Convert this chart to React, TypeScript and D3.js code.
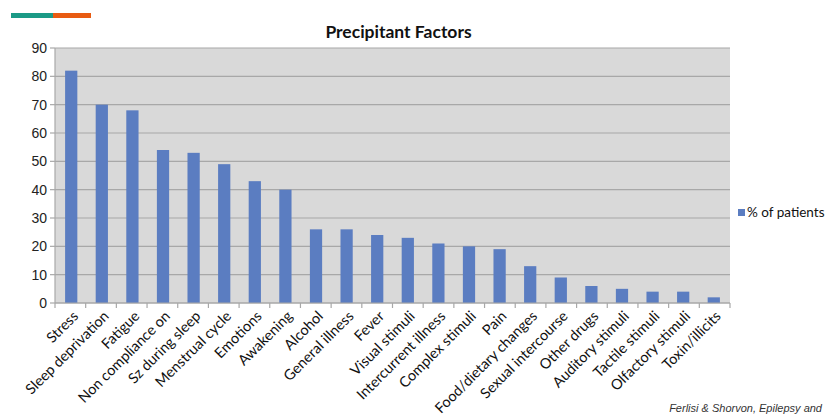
import React from "react";
import * as d3 from "d3";

const categories = [
  "Stress", "Sleep deprivation", "Fatigue", "Non compliance on", "Sz during sleep",
  "Menstrual cycle", "Emotions", "Awakening", "Alcohol", "General illness", "Fever",
  "Visual stimuli", "Intercurrent illness", "Complex stimuli", "Pain",
  "Food/dietary changes", "Sexual intercourse", "Other drugs", "Auditory stimuli",
  "Tactile stimuli", "Olfactory stimuli", "Toxin/illicits",
];
const values = [82, 70, 68, 54, 53, 49, 43, 40, 26, 26, 24, 23, 21, 20, 19, 13, 9, 6, 5, 4, 4, 2];
const yTicks = [0, 10, 20, 30, 40, 50, 60, 70, 80, 90];
const seriesName = "% of patients";
const title = "Precipitant Factors";
const source = "Ferlisi & Shorvon, Epilepsy and";

export default function App() {
  const W = 826, H = 419;
  const left = 55, right = 730, top = 48, bottom = 303;
  const x = d3.scaleBand<string>().domain(categories).range([left, right]).paddingInner(0.6).paddingOuter(0.33);
  const xb = d3.scaleBand<string>().domain(categories).range([left, right]);
  const y = d3.scaleLinear().domain([0, 90]).range([bottom, top]);
  const barColor = "#5b7dc1";
  const labelFont = "Lato, 'Open Sans', sans-serif";
  return (
    <svg width={W} height={H} style={{ position: "absolute", left: 0, top: 0 }}>
      <rect x={0} y={0} width={W} height={H} fill="#fff" />
      <rect x={11} y={13} width={42} height={5} fill="#1b9a86" />
      <rect x={53} y={13} width={38} height={5} fill="#e85b12" />
      <text x={398.5} y={38} textAnchor="middle" fontFamily={labelFont} fontWeight="bold" fontSize={17.5} fill="#111">{title}</text>
      <rect x={left} y={top} width={right - left} height={bottom - top} fill="#d9d9d9" />
      {yTicks.map((t) => (
        <g key={t}>
          <line x1={left} x2={right} y1={y(t)} y2={y(t)} stroke="#a8a8a8" strokeWidth={1.2} />
          <line x1={left - 5} x2={left} y1={y(t)} y2={y(t)} stroke="#a8a8a8" strokeWidth={1.2} />
          <text x={left - 8} y={y(t) + 5} textAnchor="end" fontFamily="'Liberation Sans', Arial, sans-serif" fontSize={14} fill="#222">{t}</text>
        </g>
      ))}
      <line x1={left} x2={left} y1={top} y2={bottom} stroke="#a8a8a8" strokeWidth={1.2} />
      {categories.map((c, i) => (
        <rect key={c} x={x(c)} y={y(values[i])} width={x.bandwidth()} height={bottom - y(values[i])} fill={barColor} />
      ))}
      {categories.map((c) => (
        <line key={"t" + c} x1={(xb(c) as number) + xb.bandwidth()} x2={(xb(c) as number) + xb.bandwidth()} y1={bottom} y2={bottom + 5} stroke="#a8a8a8" strokeWidth={1.2} />
      ))}
      <line x1={left} x2={left} y1={bottom} y2={bottom + 5} stroke="#a8a8a8" strokeWidth={1.2} />
      <line x1={left} x2={right} y1={bottom} y2={bottom} stroke="#a8a8a8" strokeWidth={1.2} />
      {categories.map((c) => {
        const cx = (x(c) as number) + x.bandwidth() / 2 + 8;
        const cy = bottom + 14;
        return (
          <text key={"l" + c} x={cx} y={cy} transform={`rotate(-45 ${cx} ${cy})`} textAnchor="end" fontFamily={labelFont} fontSize={14.5} fill="#111">{c}</text>
        );
      })}
      <rect x={738} y={209} width={7} height={7} fill={barColor} />
      <text x={747} y={217} fontFamily={labelFont} fontSize={13.5} fill="#111">{seriesName}</text>
      <text x={822} y={412} textAnchor="end" fontFamily="'Liberation Sans', Arial, sans-serif" fontStyle="italic" fontSize={11} fill="#333">{source}</text>
    </svg>
  );
}
